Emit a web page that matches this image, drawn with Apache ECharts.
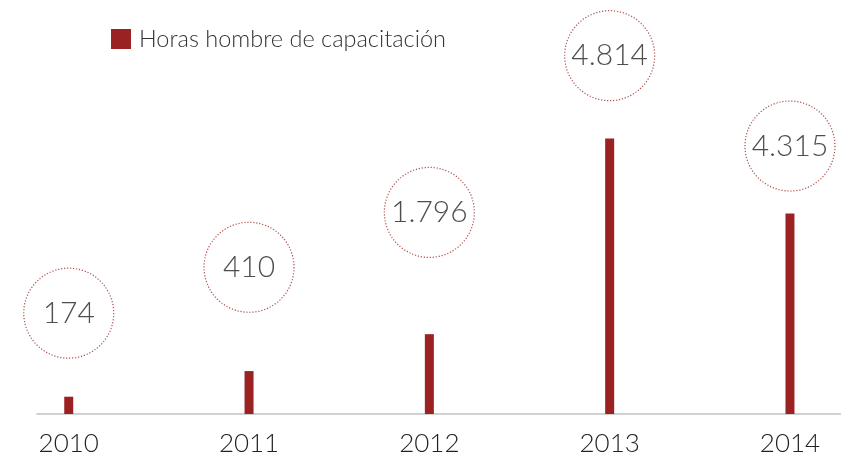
<!DOCTYPE html>
<html>
<head>
<meta charset="utf-8">
<script src="https://cdn.jsdelivr.net/npm/echarts@6/dist/echarts.min.js"></script>
<style>
  html, body { margin: 0; padding: 0; background: #fff; }
  .main { width: 841px; height: 457px; }
</style>
</head>
<body>
<div class="main"></div>
<script>
// 年份
var years = [2010, 2011, 2012, 2013, 2014];
// 柱子高度
var barValues = [302, 750, 1395, 4814, 3506];
// 圆圈里的数字
var labelTexts = ['174', '410', '1.796', '4.814', '4.315'];
// 圆圈中心的高度
var circleValues = [1762, 2564, 3523, 6262, 4683];

(function() {
  // 1. 实例化对象
  var myChart = echarts.init(document.querySelector(".main"));
  var font = 'Lato';
  var red = '#9b2222';
  // 2. 指定配置项和数据
  var option = {
    animation: false,
    legend: {
      left: 106,
      top: 22,
      icon: 'rect',
      itemWidth: 20,
      itemHeight: 20,
      itemGap: 10,
      textStyle: {
        fontFamily: font,
        fontWeight: 300,
        fontSize: 23.5,
        color: '#333',
        padding: [0, 0, 0, 3]
      },
      data: ['Horas hombre de capacitación']
    },
    grid: {
      left: 37,
      right: 0,
      top: 2,
      bottom: 42
    },
    xAxis: {
      type: 'value',
      min: 2009.824,
      max: 2014.283,
      splitLine: { show: false },
      axisTick: { show: false },
      axisLine: {
        show: true,
        lineStyle: { color: '#c2c2c2', width: 1.5 }
      },
      axisLabel: {
        customValues: years,
        formatter: function(v) { return String(v); },
        fontFamily: font,
        fontWeight: 300,
        fontSize: 26,
        color: '#222',
        margin: 17
      }
    },
    yAxis: {
      type: 'value',
      min: 0,
      max: 7200,
      show: false,
      splitLine: { show: false }
    },
    series: [
      {
        name: 'Horas hombre de capacitación',
        type: 'bar',
        barWidth: 9,
        itemStyle: { color: red },
        data: years.map(function(y, i) { return [y, barValues[i]]; })
      },
      {
        type: 'scatter',
        symbol: 'circle',
        symbolSize: 90,
        itemStyle: {
          color: 'rgba(255,255,255,0)',
          borderColor: red,
          borderWidth: 1.2,
          borderType: [1.2, 1.8]
        },
        label: {
          show: true,
          position: 'inside',
          fontFamily: font,
          fontWeight: 300,
          fontSize: 30,
          color: '#222',
          formatter: function(p) { return labelTexts[p.dataIndex]; }
        },
        data: years.map(function(y, i) { return [y, circleValues[i]]; })
      }
    ]
  };
  // 3. 配置项和数据给我们的实例化对象
  myChart.setOption(option);
  window.addEventListener("resize", function() {
    myChart.resize();
  });
})();
</script>
</body>
</html>
